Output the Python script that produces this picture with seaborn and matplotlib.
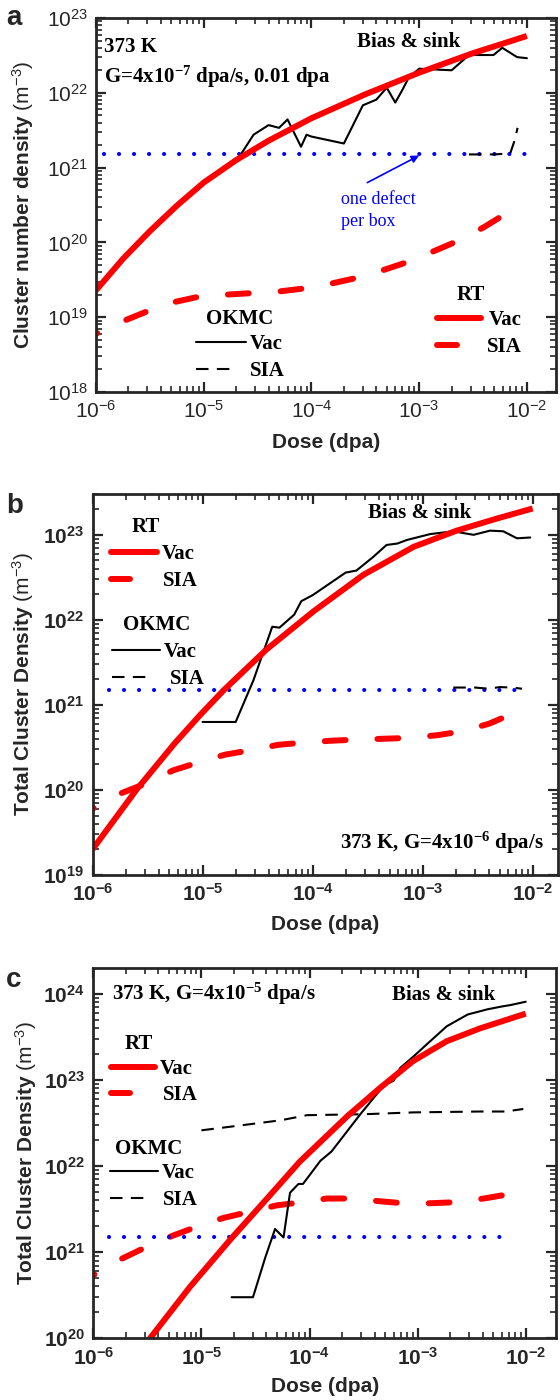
import numpy as np
import pandas as pd
import matplotlib
matplotlib.use("Agg")
import matplotlib.pyplot as plt
import seaborn as sns
from matplotlib.ticker import LogLocator, NullFormatter, FuncFormatter

# ---------------- data ----------------
# Panel a : 373 K, G=4e-7 dpa/s
a_rt_vac_dose = [1e-6, 1.78e-6, 3.16e-6, 5.62e-6, 1e-5, 2e-5, 4e-5, 1e-4, 3.16e-4, 1e-3, 3.16e-3, 1e-2]
a_rt_vac_val = [2.29e19, 6.03e19, 1.41e20, 3.09e20, 6.31e20, 1.26e21, 2.29e21, 4.57e21, 9.55e21, 1.86e22, 3.39e22, 5.75e22]
a_rt_sia_dose = [1e-6, 1.8e-6, 3e-6, 5.4e-6, 9.3e-6, 1.6e-5, 2.8e-5, 4.9e-5, 8.1e-5, 1.5e-4, 2.5e-4,
                 4.5e-4, 7.6e-4, 1.3e-3, 2.3e-3, 4e-3, 6.6e-3]
a_rt_sia_val = [6.0e18, 8.9e18, 1.2e19, 1.6e19, 1.9e19, 2.0e19, 2.1e19, 2.2e19, 2.4e19, 2.8e19, 3.3e19,
                4.2e19, 5.4e19, 7.4e19, 1.05e20, 1.6e20, 2.5e20]
a_ok_vac_dose = [2e-5, 2.9e-5, 4e-5, 5e-5, 6e-5, 8e-5, 9e-5, 1e-4, 2e-4, 3e-4, 4e-4, 5e-4, 6e-4, 7e-4,
                 8e-4, 1e-3, 2e-3, 2.9e-3, 4.9e-3, 5.9e-3, 8.1e-3, 1e-2]
a_ok_vac_val = [1.2e21, 2.75e21, 3.7e21, 3.4e21, 4.4e21, 1.9e21, 2.75e21, 2.6e21, 2.1e21, 6.8e21, 8.1e21,
                1.17e22, 7.4e21, 1.1e22, 1.6e22, 2.1e22, 2.0e22, 3.2e22, 3.2e22, 4.0e22, 3.0e22, 2.9e22]
a_ok_sia_dose = [2.9e-3, 5e-3, 7e-3, 7.6e-3, 8.2e-3]
a_ok_sia_val = [1.5e21, 1.5e21, 1.55e21, 2.2e21, 3.4e21]
a_box_dose = [1.18e-6, 1e-2]

# Panel b : 373 K, G=4e-6 dpa/s
b_rt_vac_dose = [1e-6, 2.5e-6, 5.6e-6, 9.5e-6, 1.55e-5, 3.8e-5, 1.02e-4, 2.9e-4, 8.3e-4, 2.04e-3, 4.7e-3, 1e-2]
b_rt_vac_val = [2.0e19, 1.0e20, 3.55e20, 7.6e20, 1.48e21, 4.47e21, 1.26e22, 3.39e22, 7.24e22, 1.12e23, 1.55e23, 2.04e23]
b_rt_sia_dose = [1e-6, 1.8e-6, 3.1e-6, 5.4e-6, 9.1e-6, 1.6e-5, 2.8e-5, 4.9e-5, 8.3e-5, 1.5e-4, 2.5e-4,
                 4.4e-4, 7.8e-4, 1.35e-3, 2.3e-3, 4e-3, 6.9e-3]
b_rt_sia_val = [6.0e19, 9.1e19, 1.2e20, 1.7e20, 2.1e20, 2.6e20, 2.95e20, 3.4e20, 3.6e20, 3.8e20, 3.9e20,
                4.0e20, 4.1e20, 4.4e20, 4.9e20, 6.0e20, 8.1e20]
b_ok_vac_dose = [1e-5, 2e-5, 2.9e-5, 4.3e-5, 5e-5, 6.8e-5, 7.9e-5, 1e-4, 2e-4, 2.5e-4, 3.5e-4, 4.7e-4,
                 5.9e-4, 7.2e-4, 1.17e-3, 1.9e-3, 2.9e-3, 4.1e-3, 5.4e-3, 7.2e-3, 9.5e-3]
b_ok_vac_val = [6.3e20, 6.3e20, 1.95e21, 8.3e21, 8.1e21, 1.15e22, 1.66e22, 1.95e22, 3.6e22, 3.8e22, 5.4e22,
                7.6e22, 7.9e22, 8.7e22, 1.02e23, 1.1e23, 1.0e23, 1.12e23, 1.1e23, 9.1e22, 9.3e22]
b_ok_sia_dose = [1.9e-3, 3e-3, 4e-3, 5e-3, 6.5e-3, 8e-3]
b_ok_sia_val = [1.6e21, 1.6e21, 1.55e21, 1.62e21, 1.6e21, 1.55e21]
b_box_dose = [1.4e-6, 8e-3]

# Panel c : 373 K, G=4e-5 dpa/s
c_rt_vac_dose = [1e-6, 2e-6, 3.35e-6, 7.9e-6, 1.86e-5, 4.1e-5, 8.1e-5, 2.24e-4, 4.5e-4, 9.1e-4, 1.86e-3, 3.8e-3, 1e-2]
c_rt_vac_val = [7.9e18, 4.2e19, 1.0e20, 4.0e20, 1.41e21, 4.27e21, 1.12e22, 3.8e22, 8.1e22, 1.66e23, 2.82e23, 3.98e23, 5.89e23]
c_rt_sia_dose = [1e-6, 1.8e-6, 3.1e-6, 5.4e-6, 9.3e-6, 1.6e-5, 2.8e-5, 5e-5, 8.5e-5, 1.45e-4, 2.5e-4,
                 4.5e-4, 7.4e-4, 1.3e-3, 2.2e-3, 4.1e-3, 6.9e-3]
c_rt_sia_val = [5.4e20, 8.3e20, 1.15e21, 1.55e21, 2.0e21, 2.5e21, 2.95e21, 3.5e21, 3.8e21, 4.2e21, 4.2e21,
                3.9e21, 3.7e21, 3.7e21, 3.8e21, 4.2e21, 4.7e21]
c_ok_vac_dose = [1.9e-5, 3e-5, 3.9e-5, 4.8e-5, 5.75e-5, 6.6e-5, 7.9e-5, 8.7e-5, 1.26e-4, 1.6e-4, 2.95e-4,
                 4.9e-4, 6e-4, 6.9e-4, 9.1e-4, 1.3e-3, 1.86e-3, 2.9e-3, 4.4e-3, 5.9e-3, 7.2e-3, 1e-2]
c_ok_vac_val = [3e20, 3e20, 8.7e20, 1.86e21, 1.48e21, 4.9e21, 6.2e21, 6.2e21, 1.15e22, 1.48e22, 4.0e22,
                8.7e22, 9.8e22, 1.38e23, 1.86e23, 2.8e23, 4.2e23, 5.75e23, 6.6e23, 7.1e23, 7.4e23, 8.1e23]
c_ok_sia_dose = [1e-5, 2e-5, 5.4e-5, 9.5e-5, 3.2e-4, 9.1e-4, 3.8e-3, 6.5e-3, 9.5e-3]
c_ok_sia_val = [2.6e22, 2.9e22, 3.4e22, 3.9e22, 4.0e22, 4.2e22, 4.3e22, 4.3e22, 4.6e22]
c_box_dose = [1.4e-6, 7.8e-3]

one_defect_level = 1.5e21

# ---------------- style ----------------
sns.set_style("ticks")
plt.rcParams['font.family'] = ['Liberation Sans', 'DejaVu Sans']
plt.rcParams['mathtext.fontset'] = 'custom'
plt.rcParams['mathtext.rm'] = 'Liberation Sans'
plt.rcParams['mathtext.bf'] = 'Liberation Sans:bold'
plt.rcParams['mathtext.it'] = 'Liberation Sans:italic'
plt.rcParams['lines.scale_dashes'] = False
plt.rcParams['axes.linewidth'] = 2.0

RED = '#ff0000'
BLUE = '#0000ff'
RED_LW = 4.3
BLK_LW = 1.5
RED_DASH = (14, (15, 23))
BLK_DASH = (0, (9, 6))
DOT = (0, (0.01, 10.8))
SERIF = ['Liberation Serif', 'DejaVu Serif']

W, H = 560, 1400
fig = plt.figure(figsize=(W / 100, H / 100), dpi=100)

boxes = {
    'a': (96, 556, 18, 392),
    'b': (92.5, 558, 494, 875),
    'c': (93.3, 556, 968, 1338.3),
}


def make_ax(key):
    l, r, t, b = boxes[key]
    return fig.add_axes([l / W, 1 - b / H, (r - l) / W, (b - t) / H])


def fx(key, px):
    l, r, t, b = boxes[key]
    return (px - l) / (r - l)


def fy(key, py):
    l, r, t, b = boxes[key]
    return (b - py) / (b - t)


def series(ax, dose, val, kind):
    df = pd.DataFrame({'dose': dose, 'val': val})
    if kind in ('rt_vac', 'rt_sia'):
        kw = dict(color=RED, linewidth=RED_LW)
    elif kind in ('ok_vac', 'ok_sia'):
        kw = dict(color='black', linewidth=BLK_LW)
    else:
        kw = dict(color=BLUE, linewidth=3.0)
    sns.lineplot(data=df, x='dose', y='val', ax=ax, estimator=None, sort=False,
                 legend=False, **kw)
    ln = ax.get_lines()[-1]
    if kind == 'rt_vac':
        ln.set_solid_capstyle('butt')
        ln.set_solid_joinstyle('round')
    elif kind == 'rt_sia':
        ln.set_linestyle(RED_DASH)
        ln.set_dash_capstyle('round')
    elif kind == 'ok_sia':
        ln.set_linestyle(BLK_DASH)
    elif kind == 'box':
        ln.set_linestyle(DOT)
        ln.set_dash_capstyle('round')
    return ln


def glyph(ax, key, x0, x1, ypx, kind):
    y = fy(key, ypx)
    if kind in ('rt_vac', 'rt_sia'):
        ax.plot([fx(key, x0 + 3), fx(key, x1 - 3)], [y, y], transform=ax.transAxes, clip_on=False,
                color=RED, lw=RED_LW, solid_capstyle='round')
    elif kind == 'ok_vac':
        ax.plot([fx(key, x0), fx(key, x1)], [y, y], transform=ax.transAxes, clip_on=False,
                color='black', lw=BLK_LW)
    elif kind == 'ok_sia':
        ln, = ax.plot([fx(key, x0), fx(key, x1)], [y, y], transform=ax.transAxes, clip_on=False,
                      color='black', lw=BLK_LW)
        ln.set_linestyle(BLK_DASH)


def label(ax, key, xpx, ypx_center, s, ha='left', size=15, weight='bold', color='black', family=None):
    fam = family if family is not None else SERIF
    base = ypx_center + 0.33 * size * 100 / 72
    ax.text(fx(key, xpx), fy(key, base), s, transform=ax.transAxes, ha=ha, va='baseline',
            fontsize=size, fontweight=weight, color=color, family=fam)


def setup_axes(ax, xlim, ylim, bold, ylabel, ylab_x, xlab_y):
    ax.set_xscale('log')
    ax.set_yscale('log')
    ax.set_xlim(*xlim)
    ax.set_ylim(*ylim)
    for axis in (ax.xaxis, ax.yaxis):
        axis.set_major_locator(LogLocator(base=10, numticks=20))
        axis.set_minor_locator(LogLocator(base=10, subs=np.arange(2, 10), numticks=200))
        axis.set_minor_formatter(NullFormatter())
        if bold:
            axis.set_major_formatter(FuncFormatter(
                lambda v, p: r'$\mathbf{10^{%d}}$' % int(round(np.log10(v)))))
        else:
            axis.set_major_formatter(FuncFormatter(
                lambda v, p: r'$\mathrm{10^{%d}}$' % int(round(np.log10(v)))))
    ax.tick_params(which='major', direction='in', length=7, width=1.6, top=True, right=True,
                   labelsize=15, pad=6)
    ax.tick_params(which='minor', direction='in', length=4, width=1.2, top=True, right=True)
    ax.set_xlabel('Dose (dpa)', fontsize=15, fontweight='bold')
    ax.set_ylabel(ylabel, fontsize=15, fontweight='bold')
    ax.yaxis.set_label_coords(ylab_x, 0.5)
    ax.xaxis.set_label_coords(0.5, xlab_y)
    for s in ax.spines.values():
        s.set_linewidth(2.0)
        s.set_visible(True)


# ---------------- panel a ----------------
ax = make_ax('a')
setup_axes(ax, (1e-6, 10 ** -1.73), (1e18, 1e23), False,
           r'Cluster number density $\mathrm{(m^{-3})}$', -0.13, -0.11)
series(ax, a_rt_sia_dose, a_rt_sia_val, 'rt_sia')
series(ax, a_box_dose, [one_defect_level] * 2, 'box')
series(ax, a_ok_sia_dose, a_ok_sia_val, 'ok_sia')
series(ax, a_ok_vac_dose, a_ok_vac_val, 'ok_vac')
series(ax, a_rt_vac_dose, a_rt_vac_val, 'rt_vac')
label(ax, 'a', 103.5, 45, '373 K')
label(ax, 'a', 103.5, 76, r'G=4x10$^{\mathdefault{-7}}$ dpa/s, 0.01 dpa')
label(ax, 'a', 357, 40, 'Bias & sink')
label(ax, 'a', 240, 316.7, 'OKMC', ha='center')
glyph(ax, 'a', 196, 246, 341.7, 'ok_vac')
label(ax, 'a', 250, 341.7, 'Vac')
glyph(ax, 'a', 196, 236, 369, 'ok_sia')
label(ax, 'a', 250, 369, 'SIA')
label(ax, 'a', 471, 293, 'RT', ha='center')
glyph(ax, 'a', 434, 484, 318, 'rt_vac')
label(ax, 'a', 489, 318, 'Vac')
glyph(ax, 'a', 434, 460, 345, 'rt_sia')
label(ax, 'a', 487, 345, 'SIA')
label(ax, 'a', 341, 198, 'one defect', size=13, weight='normal', color=BLUE)
label(ax, 'a', 341, 220, 'per box', size=13, weight='normal', color=BLUE)
ax.annotate('', xy=(1e-3, 1.45e21), xytext=(3.3e-4, 6.3e20),
            arrowprops=dict(arrowstyle='-|>', color=BLUE, lw=1.2, mutation_scale=11,
                            shrinkA=0, shrinkB=0))

# ---------------- panel b ----------------
ax = make_ax('b')
setup_axes(ax, (1e-6, 10 ** -1.77), (1e19, 10 ** 23.48), True,
           r'Total Cluster Density $\mathrm{(m^{-3})}$', -0.121, -0.105)
series(ax, b_rt_sia_dose, b_rt_sia_val, 'rt_sia')
series(ax, b_box_dose, [one_defect_level] * 2, 'box')
series(ax, b_ok_sia_dose, b_ok_sia_val, 'ok_sia')
series(ax, b_ok_vac_dose, b_ok_vac_val, 'ok_vac')
series(ax, b_rt_vac_dose, b_rt_vac_val, 'rt_vac')
label(ax, 'b', 146, 525, 'RT', ha='center')
glyph(ax, 'b', 108.3, 160, 551.7, 'rt_vac')
label(ax, 'b', 161.7, 551.7, 'Vac')
glyph(ax, 'b', 108.3, 133.3, 579.3, 'rt_sia')
label(ax, 'b', 163.3, 579.3, 'SIA')
label(ax, 'b', 156.7, 623.3, 'OKMC', ha='center')
glyph(ax, 'b', 111.7, 160, 650, 'ok_vac')
label(ax, 'b', 163.3, 650, 'Vac')
glyph(ax, 'b', 111.7, 150, 676.7, 'ok_sia')
label(ax, 'b', 170, 676.7, 'SIA')
label(ax, 'b', 368.3, 511, 'Bias & sink')
label(ax, 'b', 340, 841.7, r'373 K, G=4x10$^{\mathdefault{-6}}$ dpa/s')

# ---------------- panel c ----------------
ax = make_ax('c')
setup_axes(ax, (1e-6, 10 ** -1.72), (1e20, 10 ** 24.3), True,
           r'Total Cluster Density $\mathrm{(m^{-3})}$', -0.118, -0.105)
series(ax, c_rt_sia_dose, c_rt_sia_val, 'rt_sia')
series(ax, c_box_dose, [one_defect_level] * 2, 'box')
series(ax, c_ok_sia_dose, c_ok_sia_val, 'ok_sia')
series(ax, c_ok_vac_dose, c_ok_vac_val, 'ok_vac')
series(ax, c_rt_vac_dose, c_rt_vac_val, 'rt_vac')
label(ax, 'c', 111.7, 993.3, r'373 K, G=4x10$^{\mathdefault{-5}}$ dpa/s')
label(ax, 'c', 391.7, 993.3, 'Bias & sink')
label(ax, 'c', 139, 1041.7, 'RT', ha='center')
glyph(ax, 'c', 108.3, 158.3, 1066.7, 'rt_vac')
label(ax, 'c', 160, 1066.7, 'Vac')
glyph(ax, 'c', 108.3, 133.3, 1093.3, 'rt_sia')
label(ax, 'c', 163.3, 1093.3, 'SIA')
label(ax, 'c', 148.3, 1146.7, 'OKMC', ha='center')
glyph(ax, 'c', 110, 158.3, 1170.7, 'ok_vac')
label(ax, 'c', 161.7, 1170.7, 'Vac')
glyph(ax, 'c', 110, 148.3, 1198.3, 'ok_sia')
label(ax, 'c', 163.3, 1198.3, 'SIA')

# panel letters
for letter, base in (('a', 25), ('b', 513), ('c', 987)):
    fig.text(6 / W, 1 - base / H, letter, fontsize=20, fontweight='bold', va='baseline', ha='left')

fig.savefig('out.png', dpi=100)
